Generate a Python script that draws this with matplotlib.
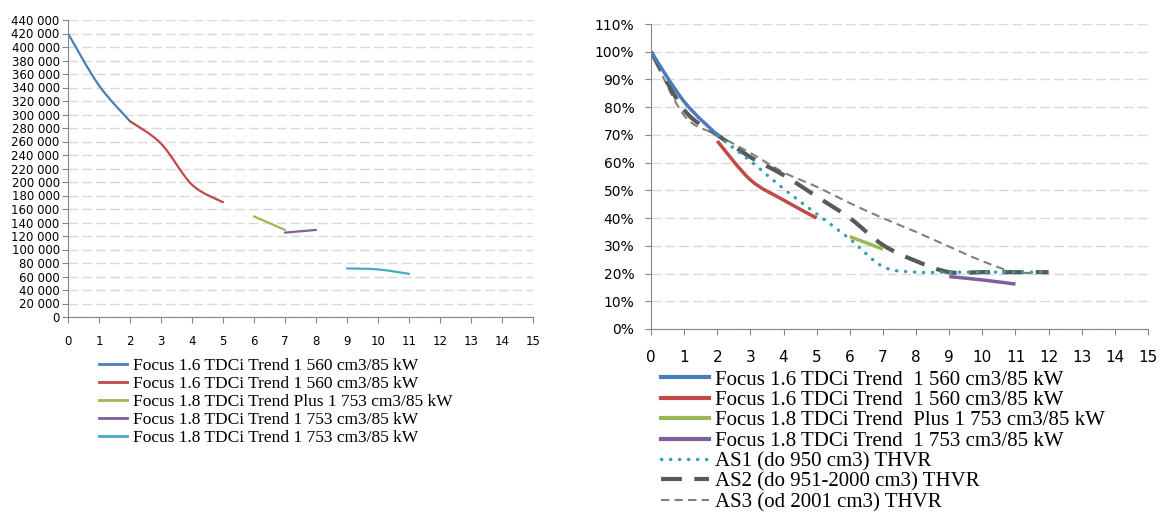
import matplotlib.pyplot as plt
from matplotlib.path import Path
from matplotlib.patches import PathPatch
from matplotlib.lines import Line2D
from matplotlib.ticker import FuncFormatter, PercentFormatter

# ---- data ----
years = list(range(16))

left_series = [
    ("Focus 1.6 TDCi Trend 1 560 cm3/85 kW", [0, 1, 2], [420000, 343000, 290000]),
    ("Focus 1.6 TDCi Trend 1 560 cm3/85 kW", [2, 3, 4, 5], [290000, 257000, 196000, 170000]),
    ("Focus 1.8 TDCi Trend Plus 1 753 cm3/85 kW", [6, 7], [149000, 129000]),
    ("Focus 1.8 TDCi Trend 1 753 cm3/85 kW", [7, 8], [125000, 129000]),
    ("Focus 1.8 TDCi Trend 1 753 cm3/85 kW", [9, 10, 11], [72000, 70500, 64000]),
]
left_colors = ["#4A7EBB", "#BE4B48", "#98B954", "#7D60A0", "#46AAC5"]

right_labels = [
    "Focus 1.6 TDCi Trend  1 560 cm3/85 kW",
    "Focus 1.6 TDCi Trend  1 560 cm3/85 kW",
    "Focus 1.8 TDCi Trend  Plus 1 753 cm3/85 kW",
    "Focus 1.8 TDCi Trend  1 753 cm3/85 kW",
    "AS1 (do 950 cm3) THVR",
    "AS2 (do 951-2000 cm3) THVR",
    "AS3 (od 2001 cm3) THVR",
]
blue_x, blue_y = [0, 1, 2], [1.00, 0.82, 0.70]
red_x, red_y = [2, 3, 4, 5], [0.678, 0.538, 0.465, 0.400]
green_x, green_y = [6, 7], [0.333, 0.288]
purple_x, purple_y = [9, 10, 11], [0.189, 0.177, 0.162]
as_x = list(range(13))
as1 = [1.00, 0.82, 0.70, 0.606, 0.506, 0.415, 0.325, 0.225, 0.205, 0.205, 0.205, 0.205, 0.205]
as2 = [1.00, 0.79, 0.70, 0.62, 0.555, 0.478, 0.400, 0.303, 0.245, 0.205, 0.205, 0.205, 0.205]
as3 = [1.00, 0.77, 0.70, 0.635, 0.565, 0.513, 0.454, 0.400, 0.350, 0.297, 0.245, 0.205, 0.205]


def smooth_path(x, y):
    # Excel style smoothed line: cubic bezier through the points
    verts = [(x[0], y[0])]
    codes = [Path.MOVETO]
    n = len(x)
    for i in range(n - 1):
        x0, y0 = (x[i - 1], y[i - 1]) if i > 0 else (x[i], y[i])
        x3, y3 = (x[i + 2], y[i + 2]) if i + 2 < n else (x[i + 1], y[i + 1])
        c1 = (x[i] + (x[i + 1] - x0) / 6, y[i] + (y[i + 1] - y0) / 6)
        c2 = (x[i + 1] - (x3 - x[i]) / 6, y[i + 1] - (y3 - y[i]) / 6)
        verts += [c1, c2, (x[i + 1], y[i + 1])]
        codes += [Path.CURVE4] * 3
    return Path(verts, codes)


def add_curve(ax, x, y, **kw):
    ax.add_patch(PathPatch(smooth_path(x, y), fill=False, **kw))


def style_axes(ax):
    for s in ["top", "right"]:
        ax.spines[s].set_visible(False)
    for s in ["left", "bottom"]:
        ax.spines[s].set_color("#868686")
    ax.grid(axis="y", color="#D9D9D9", linestyle=(0, (7, 3)), linewidth=1)
    ax.set_axisbelow(True)
    ax.tick_params(colors="#868686", labelcolor="black", length=4)
    ax.set_xlim(0, 15)
    ax.set_xticks(years)


fig = plt.figure(figsize=(11.61, 5.19), dpi=100)
plt.rcParams["font.family"] = "DejaVu Sans"

# ---- left chart ----
ax1 = fig.add_axes([68 / 1161, 1 - 317 / 519, 465 / 1161, 297 / 519])
style_axes(ax1)
ax1.set_ylim(0, 440000)
ax1.set_yticks(range(0, 440001, 20000))
ax1.yaxis.set_major_formatter(FuncFormatter(lambda v, p: f"{int(v):,}".replace(",", " ")))
ax1.tick_params(axis="y", labelsize=8.5, pad=2)
ax1.tick_params(axis="x", labelsize=8.5, pad=9)
handles1 = []
for (label, x, y), c in zip(left_series, left_colors):
    add_curve(ax1, x, y, edgecolor=c, linewidth=1.6, capstyle="round")
    handles1.append(Line2D([], [], color=c, linewidth=2, label=label))
fig.legend(handles=handles1, loc="upper left", bbox_to_anchor=(99 / 1161, 1 - 358 / 519),
           frameon=False, prop={"family": "Liberation Serif", "size": 12.5},
           handlelength=1.6, handletextpad=0.35, labelspacing=0.1, borderaxespad=0, borderpad=0)

# ---- right chart ----
ax2 = fig.add_axes([651 / 1161, 1 - 329 / 519, 497 / 1161, 305 / 519])
style_axes(ax2)
ax2.set_ylim(0, 1.1)
ax2.set_yticks([i / 10 for i in range(12)])
ax2.yaxis.set_major_formatter(PercentFormatter(1.0, decimals=0))
ax2.tick_params(axis="y", labelsize=10, pad=8)
ax2.tick_params(axis="x", labelsize=11, pad=11)

add_curve(ax2, as_x, as3, edgecolor="#808080", linewidth=1.5, linestyle=(0, (4, 2.5)))
add_curve(ax2, as_x, as2, edgecolor="#595959", linewidth=3, linestyle=(0, (5, 3)))
add_curve(ax2, as_x, as1, edgecolor="#31A0B8", linewidth=2.4, linestyle=(0, (0.1, 2.6)), capstyle="round")
add_curve(ax2, blue_x, blue_y, edgecolor="#4A7EBB", linewidth=2.5)
add_curve(ax2, red_x, red_y, edgecolor="#BE4B48", linewidth=2.5)
add_curve(ax2, green_x, green_y, edgecolor="#98B954", linewidth=2.5)
add_curve(ax2, purple_x, purple_y, edgecolor="#7D60A0", linewidth=2.5)

handles2 = [
    Line2D([], [], color="#4A7EBB", linewidth=3, label=right_labels[0]),
    Line2D([], [], color="#BE4B48", linewidth=3, label=right_labels[1]),
    Line2D([], [], color="#98B954", linewidth=3, label=right_labels[2]),
    Line2D([], [], color="#7D60A0", linewidth=3, label=right_labels[3]),
    Line2D([], [], color="#31A0B8", linewidth=2.4, linestyle=(0, (0.1, 2.6)),
           dash_capstyle="round", label=right_labels[4]),
    Line2D([], [], color="#595959", linewidth=3, linestyle=(0, (5, 3)), label=right_labels[5]),
    Line2D([], [], color="#808080", linewidth=1.5, linestyle=(0, (4, 2.5)), label=right_labels[6]),
]
fig.legend(handles=handles2, loc="upper left", bbox_to_anchor=(661 / 1161, 1 - 370 / 519),
           frameon=False, prop={"family": "Liberation Serif", "size": 15},
           handlelength=2.3, handletextpad=0.3, labelspacing=0.04, borderaxespad=0, borderpad=0)

fig.savefig("out.png", dpi=100)
